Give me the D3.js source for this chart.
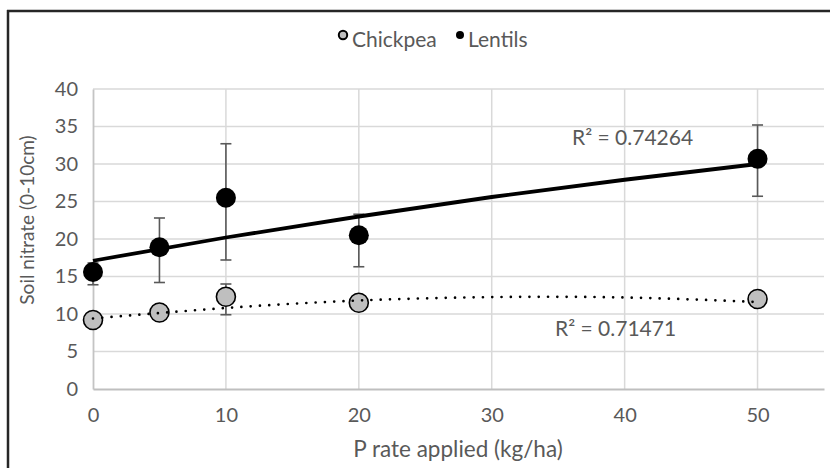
<!DOCTYPE html>
<html>
<head>
<meta charset="utf-8">
<script src="https://cdn.jsdelivr.net/npm/d3@7"></script>
<style>
  html, body { margin: 0; padding: 0; background: #fff; }
  svg { display: block; }
  text { font-family: Lato, "Open Sans", sans-serif; fill: #595959; }
</style>
</head>
<body>
<svg id="chart" width="830" height="468"></svg>
<script>
// P application rates (kg/ha)
const rates = [0, 5, 10, 20, 50];

// Soil nitrate means and error bar extents (upper / lower)
const lentils          = [15.6, 18.9, 25.5, 20.5, 30.7];
const lentilsErrUp     = [1.2, 3.9, 7.2, 2.8, 4.5];
const lentilsErrDown   = [1.7, 4.7, 8.3, 4.2, 5.0];

const chickpea         = [9.2, 10.2, 12.3, 11.5, 12.0];
const chickpeaErrUp    = [0.6, 0.6, 1.7, 0.6, 0.6];
const chickpeaErrDown  = [0.8, 0.8, 2.4, 0.8, 0.8];

// Polynomial (order 2) trendline values at the trend sample rates
const trendRates       = [0, 10, 20, 30, 40, 50];
const lentilsTrend     = [17.1, 20.2, 23.0, 25.6, 27.9, 30.0];
const chickpeaTrend    = [9.4, 10.8, 11.8, 12.25, 12.2, 11.6];
const trendR2          = ["0.74264", "0.71471"];

// Axis ticks
const xTicks = [0, 10, 20, 30, 40, 50];
const yTicks = [0, 5, 10, 15, 20, 25, 30, 35, 40];

// Legend labels
const seriesNames = ["Chickpea", "Lentils"];

const svg = d3.select("#chart");

const x = d3.scaleLinear().domain([0, 55]).range([93, 824]);
const y = d3.scaleLinear().domain([0, 40]).range([389, 89]);

// Outer frame
svg.append("line").attr("x1", 8).attr("x2", 8).attr("y1", 10).attr("y2", 468)
  .attr("stroke", "#262626").attr("stroke-width", 2.5);
svg.append("line").attr("x1", 7).attr("x2", 830).attr("y1", 11).attr("y2", 11)
  .attr("stroke", "#262626").attr("stroke-width", 2.5);

// Gridlines
const grid = svg.append("g");
grid.selectAll("line.h").data(yTicks.filter(d => d > 0)).join("line")
  .attr("x1", x(0)).attr("x2", x(55))
  .attr("y1", d => y(d)).attr("y2", d => y(d))
  .attr("stroke", "#d9d9d9").attr("stroke-width", 1.5);
grid.selectAll("line.v").data(xTicks.filter(d => d > 0)).join("line")
  .attr("x1", d => x(d)).attr("x2", d => x(d))
  .attr("y1", y(40)).attr("y2", y(0))
  .attr("stroke", "#d9d9d9").attr("stroke-width", 1.5);

// Axes
const yAxis = svg.append("g").attr("transform", `translate(${x(0)},0)`)
  .call(d3.axisLeft(y).tickValues(yTicks).tickSize(0).tickPadding(15));
yAxis.select(".domain").attr("stroke", "#c4c4c4").attr("stroke-width", 1.8);
yAxis.selectAll("text").style("font-size", "20px").attr("fill", "#595959");

const xAxis = svg.append("g").attr("transform", `translate(0,${y(0)})`)
  .call(d3.axisBottom(x).tickValues(xTicks).tickSize(0).tickPadding(19));
xAxis.select(".domain").attr("stroke", "#bfbfbf").attr("stroke-width", 2.2);
xAxis.selectAll("text").style("font-size", "20px").attr("fill", "#595959");

// Axis titles
svg.append("text").attr("x", 458).attr("y", 457).attr("text-anchor", "middle")
  .style("font-size", "22.5px").text("P rate applied (kg/ha)");
svg.append("text").attr("transform", "translate(34,220) rotate(-90)").attr("text-anchor", "middle")
  .style("font-size", "19px").text("Soil nitrate (0-10cm)");

// Error bars
function errorBars(vals, up, down) {
  const g = svg.append("g").attr("stroke", "#595959").attr("stroke-width", 1.6);
  rates.forEach((r, i) => {
    const cx = x(r), yt = y(vals[i] + up[i]), yb = y(vals[i] - down[i]);
    g.append("line").attr("x1", cx).attr("x2", cx).attr("y1", yt).attr("y2", yb);
    g.append("line").attr("x1", cx - 5.5).attr("x2", cx + 5.5).attr("y1", yt).attr("y2", yt);
    g.append("line").attr("x1", cx - 5.5).attr("x2", cx + 5.5).attr("y1", yb).attr("y2", yb);
  });
}
errorBars(lentils, lentilsErrUp, lentilsErrDown);
errorBars(chickpea, chickpeaErrUp, chickpeaErrDown);

// Markers
svg.append("g").selectAll("circle").data(rates).join("circle")
  .attr("cx", d => x(d)).attr("cy", (d, i) => y(lentils[i])).attr("r", 10)
  .attr("fill", "#000");
svg.append("g").selectAll("circle").data(rates).join("circle")
  .attr("cx", d => x(d)).attr("cy", (d, i) => y(chickpea[i])).attr("r", 9.5)
  .attr("fill", "#bfbfbf").attr("stroke", "#000").attr("stroke-width", 1.6);

// Trendlines
const trendLine = vals => d3.line()
  .x(d => x(d)).y((d, i) => y(vals[i]))
  .curve(d3.curveNatural)(trendRates);
svg.append("path").attr("d", trendLine(lentilsTrend))
  .attr("fill", "none").attr("stroke", "#000").attr("stroke-width", 3.8);
svg.append("path").attr("d", trendLine(chickpeaTrend))
  .attr("fill", "none").attr("stroke", "#000").attr("stroke-width", 2.7)
  .attr("stroke-linecap", "round").attr("stroke-dasharray", "0,9.3");

// R² labels
svg.append("text").attr("x", 572).attr("y", 145).style("font-size", "21px").text(`R\u00B2 = ${trendR2[0]}`);
svg.append("text").attr("x", 555).attr("y", 336).style("font-size", "21px").text(`R\u00B2 = ${trendR2[1]}`);

// Legend
const leg = svg.append("g");
leg.append("circle").attr("cx", 343).attr("cy", 35).attr("r", 4.2)
  .attr("fill", "#bfbfbf").attr("stroke", "#000").attr("stroke-width", 2);
leg.append("text").attr("x", 352).attr("y", 47).style("font-size", "21px").text(seriesNames[0]);
leg.append("circle").attr("cx", 460).attr("cy", 35).attr("r", 4).attr("fill", "#000");
leg.append("text").attr("x", 468).attr("y", 47).style("font-size", "21px").text(seriesNames[1]);
</script>
</body>
</html>
